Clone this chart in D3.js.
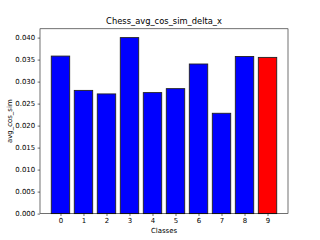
<html>
<head>
<script src="https://cdn.jsdelivr.net/npm/d3@7"></script>
<style>
  body { margin: 0; background: #fff; }
  text { font-family: "DejaVu Sans", sans-serif; fill: #000; }
</style>
</head>
<body>
<script>
var w = 320;
var h = 240;

var classes = ['0', '1', '2', '3', '4', '5', '6', '7', '8', '9'];
var values = [0.0358, 0.0280, 0.0272, 0.0400, 0.0275, 0.0284, 0.0340, 0.0228, 0.0357, 0.0355];
var barColors = ['blue', 'blue', 'blue', 'blue', 'blue', 'blue', 'blue', 'blue', 'blue', 'red'];
var yTicks = [0, 0.005, 0.010, 0.015, 0.020, 0.025, 0.030, 0.035, 0.040];

var plotLeft = 40, plotRight = 288, plotTop = 28.8, plotBottom = 213.6;

var svg = d3.select('body').append('svg')
    .attr('width', w)
    .attr('height', h);

// numeric x like matplotlib: bars at i, width 0.8, 5% margins
var x = d3.scaleLinear()
    .domain([-0.89, classes.length - 1 + 0.89])
    .range([plotLeft, plotRight]);

var y = d3.scaleLinear()
    .domain([0, 0.042])
    .range([plotBottom, plotTop]);

svg.selectAll('rect.bar')
    .data(values)
    .enter()
    .append('rect')
    .attr('class', 'bar')
    .attr('x', function(d, i) { return x(i - 0.4); })
    .attr('y', function(d) { return y(d); })
    .attr('width', function(d, i) { return x(i + 0.4) - x(i - 0.4); })
    .attr('height', function(d) { return y(0) - y(d); })
    .attr('fill', function(d, i) { return barColors[i]; })
    .attr('stroke', '#222')
    .attr('stroke-width', 0.9);

var xAxis = svg.append('g')
    .attr('transform', 'translate(0,' + plotBottom + ')')
    .call(d3.axisBottom(x)
        .tickValues(d3.range(classes.length))
        .tickFormat(function(d) { return classes[d]; })
        .tickSize(2.4)
        .tickPadding(2.4));

var yAxis = svg.append('g')
    .attr('transform', 'translate(' + plotLeft + ',0)')
    .call(d3.axisLeft(y)
        .tickValues(yTicks)
        .tickFormat(d3.format('.3f'))
        .tickSize(2.4)
        .tickPadding(2.4));

[xAxis, yAxis].forEach(function(a) {
    a.select('.domain').remove();
    a.selectAll('line').attr('stroke', '#000').attr('stroke-width', 0.56);
    a.selectAll('text').style('font-size', '6.94px').attr('fill', '#000');
});

// spines
svg.append('rect')
    .attr('x', plotLeft)
    .attr('y', plotTop)
    .attr('width', plotRight - plotLeft)
    .attr('height', plotBottom - plotTop)
    .attr('fill', 'none')
    .attr('stroke', '#000')
    .attr('stroke-width', 0.56);

svg.append('text')
    .attr('x', (plotLeft + plotRight) / 2)
    .attr('y', plotTop - 4.5)
    .attr('text-anchor', 'middle')
    .style('font-size', '8.33px')
    .text('Chess_avg_cos_sim_delta_x');

svg.append('text')
    .attr('x', (plotLeft + plotRight) / 2)
    .attr('y', 233)
    .attr('text-anchor', 'middle')
    .style('font-size', '6.94px')
    .text('Classes');

svg.append('text')
    .attr('transform', 'translate(12,' + ((plotTop + plotBottom) / 2) + ') rotate(-90)')
    .attr('text-anchor', 'middle')
    .style('font-size', '6.94px')
    .text('avg_cos_sim');
</script>
</body>
</html>
